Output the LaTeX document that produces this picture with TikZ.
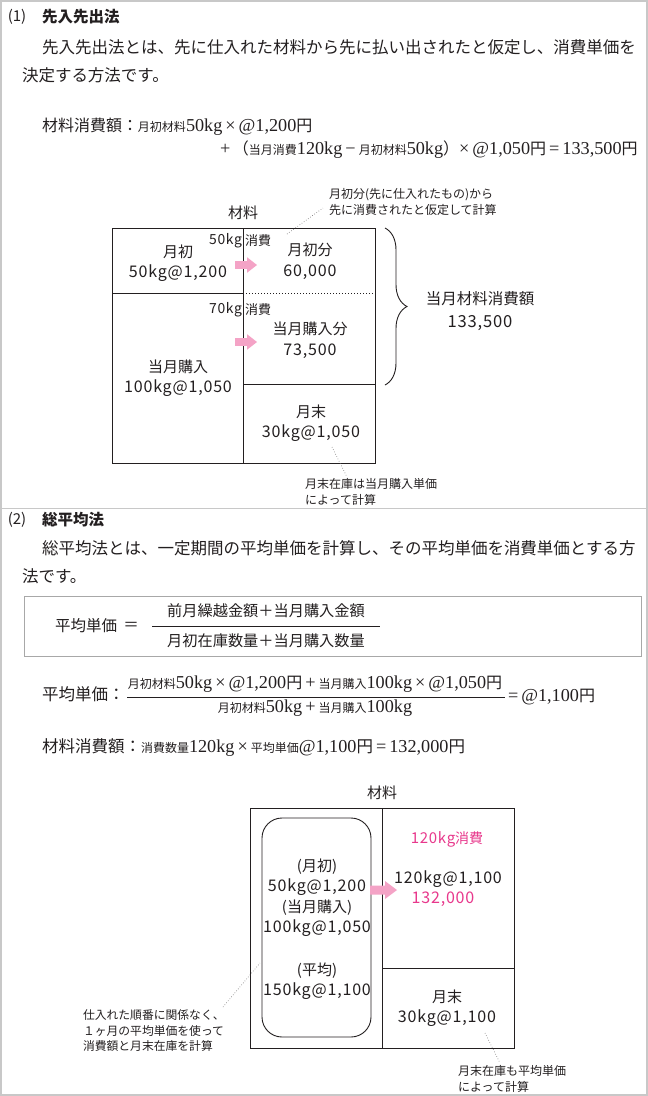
\documentclass[tikz,border=0pt]{standalone}
\usepackage{fontspec}
\setmainfont{Noto Sans CJK JP}
\newfontfamily\srf{Liberation Serif}
\newfontfamily\dg[Scale=1.07, LetterSpace=5]{Noto Sans CJK JP}
\usetikzlibrary{decorations.pathreplacing}
\definecolor{ink}{HTML}{231F20}
\definecolor{pinkarrow}{HTML}{F4A3C6}
\definecolor{mag}{HTML}{E8388C}
\definecolor{framegray}{HTML}{C8C8C8}
\definecolor{boxgray}{HTML}{A8A8A8}
\newcommand\FS[1]{\fontsize{#1}{#1}\selectfont}
\newcommand\R[1]{{\srf\FS{18.2}#1}}
\newcommand\Jsm[1]{{\fontsize{12}{12}\selectfont #1}}
\tikzset{
  parrow/.pic={\fill[pinkarrow] (0,-3.8) -- (12,-3.8) -- (12,-7.8) -- (22,0) -- (12,7.8) -- (12,3.8) -- (0,3.8) -- cycle;},
  parrowbig/.pic={\fill[pinkarrow] (0,-4.5) -- (15,-4.5) -- (15,-9) -- (27,0) -- (15,9) -- (15,4.5) -- (0,4.5) -- cycle;},
  tbl/.style={draw=ink, line width=0.9pt},
  leader/.style={draw=ink!70, dotted, line width=0.6pt},
  para/.style={anchor=west, font=\FS{16.5}},
  lbl/.style={align=center, font=\fontsize{15}{20.5}\selectfont},
  small/.style={font=\FS{13}},
  note/.style={anchor=west, align=left, font=\fontsize{12}{16}\selectfont},
}
\begin{document}
\begin{tikzpicture}[x=1pt,y=-1pt, every node/.style={inner sep=0pt, outer sep=0pt, text=ink}]
\useasboundingbox (0,0) rectangle (648,1096);
\fill[white] (0,0) rectangle (648,1096);
\draw[framegray, line width=1.2pt] (1,1) rectangle (647,1095);
\draw[framegray, line width=1pt] (0,508) -- (648,508);

% ---------- Section 1 ----------
\node[font=\FS{15}] (n1) at (17,17) {(1)};
\node[anchor=west, font=\FS{15.5}\bfseries] (h1) at (42,17) {先入先出法};
\node[para] (p1a) at (42,47) {先入先出法とは、先に仕入れた材料から先に払い出されたと仮定し、消費単価を};
\node[para] (p1b) at (22,75) {決定する方法です。};
\node[anchor=west, font=\FS{16}] (f1a) at (42,127) {材料消費額：\Jsm{月初材料}\R{50kg\,×\,@1,200}円};
\node[anchor=west, font=\FS{16}] (f1b) at (220,150) {\R{+}\,（\Jsm{当月消費}\R{120kg\,−\,}\Jsm{月初材料}\R{50kg}）\R{×\,@1,050}円\R{\,=\,133,500}円};

% ---------- Diagram 1 ----------
\node[font=\FS{15}] (zai1) at (243,213) {材料};
\draw[tbl] (112,228) rectangle (375,463);
\draw[tbl] (243,228) -- (243,463);
\draw[tbl] (112,293) -- (243,293);
\draw[tbl] (243,384) -- (375,384);
\draw[ink, dotted, line width=1pt] (243,293) -- (375,293);

\node[lbl] (beg) at (178,263) {月初\\{\dg 50kg@1,200}};
\node[lbl] (pur) at (178,378) {当月購入\\{\dg 100kg@1,050}};
\node[small, anchor=east] (k50) at (242,241) {\dg 50kg};
\node[small, anchor=west] (s50) at (245,241) {消費};
\node[small, anchor=east] (k70) at (242,310) {\dg 70kg};
\node[small, anchor=west] (s70) at (245,310) {消費};
\node[lbl] (begc) at (310,261) {月初分\\{\dg 60,000}};
\node[lbl] (purc) at (310,340) {当月購入分\\{\dg 73,500}};
\node[lbl] (end1) at (311,423) {月末\\{\dg 30kg@1,050}};
\pic at (235,265) {parrow};
\pic at (235,342) {parrow};

\draw[ink, line width=0.9pt, decorate, decoration={brace, amplitude=22pt, raise=0pt}] (385,228) -- (385,385);
\node[align=center, font=\fontsize{15.5}{23}\selectfont] (tot) at (480,311) {当月材料消費額\\{\dg 133,500}};

\node[note] (note1) at (329,202) {月初分(先に仕入れたもの)から\\先に消費されたと仮定して計算};
\coordinate (l1a) at (287,234);
\coordinate (l1b) at (323,208);
\draw[leader] (l1a) -- (l1b);
\node[note] (note2) at (305,492) {月末在庫は当月購入単価\\によって計算};
\coordinate (l2a) at (332,447);
\coordinate (l2b) at (347,477);
\draw[leader] (l2a) -- (l2b);

% ---------- Section 2 ----------
\node[font=\FS{15}] (n2) at (17,520) {(2)};
\node[anchor=west, font=\FS{15.5}\bfseries] (h2) at (42,520) {総平均法};
\node[para] (p2a) at (42,548) {総平均法とは、一定期間の平均単価を計算し、その平均単価を消費単価とする方};
\node[para] (p2b) at (22,576) {法です。};

\draw[boxgray, line width=0.9pt] (24,596) rectangle (641,656);
\node[anchor=west, font=\FS{15.5}] (avg) at (55,626) {平均単価};
\node[font=\FS{15.5}] (eq) at (131,626) {＝};
\node[font=\FS{15.2}] (num) at (266,611) {前月繰越金額＋当月購入金額};
\node[font=\FS{15.2}] (den) at (266,641) {月初在庫数量＋当月購入数量};
\draw[ink, line width=0.8pt] (152,626) -- (380,626);

\node[anchor=west, font=\FS{16.5}] (avg2) at (42,694) {平均単価：};
\node[font=\FS{16}] (num2) at (315,684) {\Jsm{月初材料}\R{50kg\,×\,@1,200}円\R{\,+\,}\Jsm{当月購入}\R{100kg\,×\,@1,050}円};
\node[font=\FS{16}] (den2) at (315,708) {\Jsm{月初材料}\R{50kg\,+\,}\Jsm{当月購入}\R{100kg}};
\draw[ink, line width=0.7pt] (127,697) -- (505,697);
\node[anchor=west, font=\FS{16}] (res2) at (508,697) {\R{=\,@1,100}円};
\node[anchor=west, font=\FS{16.5}] (f2) at (42,748) {材料消費額：\Jsm{消費数量}\R{120kg\,×\,}\Jsm{平均単価}\R{@1,100}円\R{\,=\,132,000}円};

% ---------- Diagram 2 ----------
\node[font=\FS{15}] (zai2) at (382,793) {材料};
\draw[tbl] (250,808) rectangle (514,1048);
\draw[tbl] (382,808) -- (382,1048);
\draw[tbl] (382,968) -- (514,968);
\draw[tbl, rounded corners=20pt] (262,818) rectangle (371,1037);

\node[lbl] (mix) at (317,897.5) {(月初)\\{\dg 50kg@1,200}\\(当月購入)\\{\dg 100kg@1,050}};
\node[lbl] (avgq) at (317,981) {(平均)\\{\dg 150kg@1,100}};
\pic at (370,890) {parrowbig};
\node[font=\FS{14}, text=mag] (cons) at (447,839) {{\dg 120kg}消費};
\node[font=\FS{15}] (cq) at (448,879) {\dg 120kg@1,100};
\node[font=\FS{15}, text=mag] (camt) at (443,899) {\dg 132,000};
\node[lbl] (end2) at (447,1008) {月末\\{\dg 30kg@1,100}};

\node[note, font=\fontsize{11.8}{15.5}\selectfont] (note3) at (83,1031) {仕入れた順番に関係なく、\\１ヶ月の平均単価を使って\\消費額と月末在庫を計算};
\coordinate (l3a) at (223,1007);
\coordinate (l3b) at (260,963);
\draw[leader] (l3a) -- (l3b);
\node[note] (note4) at (458,1079) {月末在庫も平均単価\\によって計算};
\coordinate (l4a) at (485,1033);
\coordinate (l4b) at (500,1063);
\draw[leader] (l4a) -- (l4b);
\end{tikzpicture}
\end{document}
